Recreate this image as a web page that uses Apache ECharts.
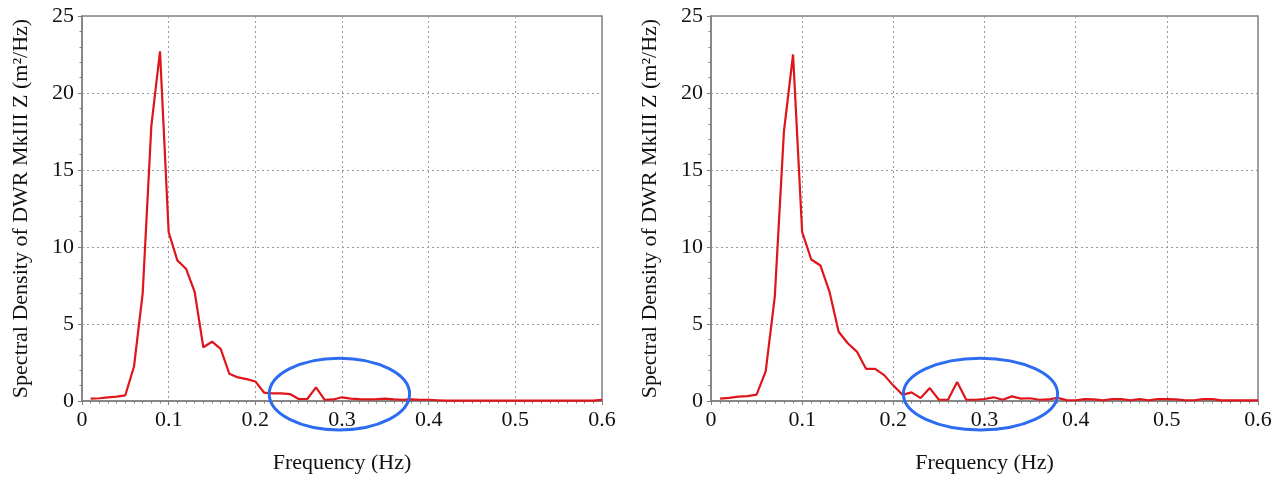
<!DOCTYPE html>
<html>
<head>
<meta charset="utf-8">
<script src="https://cdn.jsdelivr.net/npm/echarts@6/dist/echarts.min.js"></script>
<style>html,body{margin:0;padding:0;background:#fff}#c{width:1280px;height:479px}</style>
</head>
<body>
<div id="c"></div>
<script>
const freqs = [0.01,0.02,0.03,0.04,0.05,0.06,0.07,0.08,0.09,0.10,0.11,0.12,0.13,0.14,0.15,0.16,0.17,0.18,0.19,0.20,
  0.21,0.22,0.23,0.24,0.25,0.26,0.27,0.28,0.29,0.30,0.31,0.32,0.33,0.34,0.35,0.36,0.37,0.38,0.39,0.40,
  0.41,0.42,0.43,0.44,0.45,0.46,0.47,0.48,0.49,0.50,0.51,0.52,0.53,0.54,0.55,0.56,0.57,0.58,0.59,0.60];
const leftValues = [0.15,0.18,0.24,0.28,0.37,2.24,6.98,17.85,22.7,10.96,9.13,8.59,7.08,3.49,3.85,3.38,1.77,1.53,1.42,1.27,
  0.55,0.5,0.5,0.45,0.13,0.13,0.88,0.08,0.1,0.24,0.15,0.12,0.1,0.12,0.15,0.1,0.08,0.1,0.08,0.08,
  0.05,0.02,0.02,0.02,0.02,0.02,0.02,0.02,0.02,0.02,0.02,0.02,0.02,0.02,0.02,0.02,0.02,0.02,0.03,0.08];
const rightValues = [0.15,0.2,0.28,0.32,0.41,1.92,6.8,17.5,22.5,10.96,9.19,8.8,7.09,4.5,3.75,3.21,2.09,2.09,1.68,1.0,
  0.4,0.56,0.19,0.84,0.08,0.08,1.23,0.08,0.08,0.13,0.24,0.08,0.3,0.15,0.18,0.08,0.1,0.2,0.06,0.05,
  0.12,0.1,0.05,0.12,0.12,0.05,0.12,0.05,0.12,0.12,0.1,0.05,0.05,0.12,0.12,0.04,0.04,0.04,0.04,0.04];
const xTicks = [0,0.1,0.2,0.3,0.4,0.5,0.6];
const yTicks = [0,5,10,15,20,25];
const xName = 'Frequency (Hz)';
const yName = 'Spectral Density of DWR MkIII Z (m²/Hz)';
// highlight ellipses (data units: center x, center y, radius x, radius y)
const ellipses = [[0.297,0.45,0.081,2.33],[0.2956,0.45,0.0846,2.33]];

const font = 'Liberation Serif';
const chart = echarts.init(document.getElementById('c'));
function xAxis(i){
  return {gridIndex:i,type:'value',min:xTicks[0],max:xTicks[xTicks.length-1],interval:0.1,
    name:xName,nameLocation:'middle',nameGap:51,
    nameTextStyle:{fontFamily:font,fontSize:22,color:'#111'},
    axisLine:{show:true,onZero:false,lineStyle:{color:'#808080',width:1.5}},
    axisTick:{show:true,length:4,lineStyle:{color:'#808080'}},
    minorTick:{show:true,splitNumber:10,length:2.5,lineStyle:{color:'#808080'}},
    axisLabel:{fontFamily:font,fontSize:22,color:'#111',margin:8,
      formatter:v=>v===0?'0':v.toFixed(1)},
    splitLine:{show:true,lineStyle:{color:'#9a9a9a',type:[2,3],width:1}}};
}
function yAxis(i){
  return {gridIndex:i,type:'value',min:yTicks[0],max:yTicks[yTicks.length-1],interval:5,
    name:yName,nameLocation:'middle',nameGap:50,
    nameTextStyle:{fontFamily:font,fontSize:22,color:'#111'},
    axisLine:{show:true,lineStyle:{color:'#808080',width:1.5}},
    axisTick:{show:true,length:4,lineStyle:{color:'#808080'}},
    minorTick:{show:true,splitNumber:5,length:2.5,lineStyle:{color:'#808080'}},
    axisLabel:{fontFamily:font,fontSize:22,color:'#111',margin:8},
    splitLine:{show:true,lineStyle:{color:'#9a9a9a',type:[2,3],width:1}}};
}
const option = {
  animation:false,
  grid:[
    {left:82,right:678,top:16,bottom:76,show:true,borderColor:'#808080',borderWidth:1.5},
    {left:711,right:22,top:16,bottom:76,show:true,borderColor:'#808080',borderWidth:1.5}
  ],
  xAxis:[xAxis(0),xAxis(1)],
  yAxis:[yAxis(0),yAxis(1)],
  series:[
    {type:'line',xAxisIndex:0,yAxisIndex:0,data:freqs.map((f,k)=>[f,leftValues[k]]),
      showSymbol:false,lineStyle:{color:'#e0141b',width:2.2},z:3},
    {type:'line',xAxisIndex:1,yAxisIndex:1,data:freqs.map((f,k)=>[f,rightValues[k]]),
      showSymbol:false,lineStyle:{color:'#e0141b',width:2.2},z:3}
  ]
};
chart.setOption(option);
const g = ellipses.map((e,i)=>{
  const c = chart.convertToPixel({gridIndex:i},[e[0],e[1]]);
  const r = chart.convertToPixel({gridIndex:i},[e[0]+e[2],e[1]+e[3]]);
  return {type:'ellipse',shape:{cx:c[0],cy:c[1],rx:Math.abs(r[0]-c[0]),ry:Math.abs(c[1]-r[1])},
    style:{fill:'none',stroke:'#2d6cf0',lineWidth:3},z:10};
});
chart.setOption({graphic:g});
</script>
</body>
</html>
